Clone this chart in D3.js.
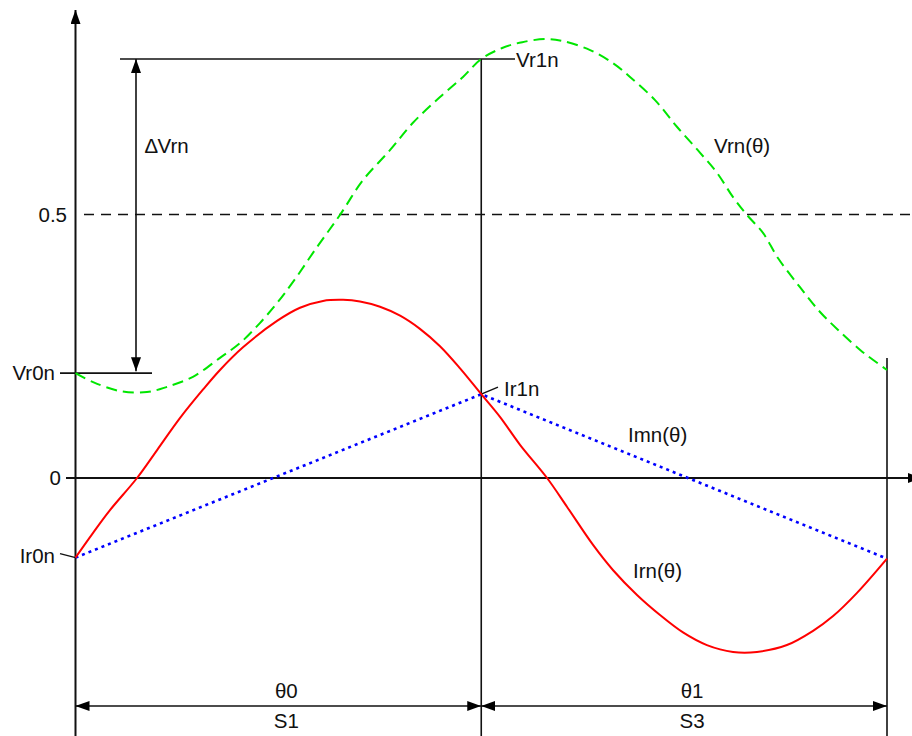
<!DOCTYPE html>
<html><head><meta charset="utf-8">
<script src="https://cdn.jsdelivr.net/npm/d3@7"></script>
<style>body{margin:0;background:#fff}svg{display:block}text{font-family:"Liberation Sans",Arial,sans-serif;fill:#111}</style>
</head><body><svg id="c" width="912" height="736"></svg>
<script>
// theta in degrees (0..360), values normalized
const vrn = [[0,0.199],[7.8,0.182],[19.7,0.165],[31.7,0.163],[40.6,0.173],[52.1,0.192],[64.1,0.228],[73,0.256],[81.8,0.294],[89.4,0.332],[96.5,0.372],[107.1,0.438],[117.3,0.499],[127.5,0.565],[139.5,0.622],[149.7,0.674],[161.7,0.723],[171.9,0.761],[180,0.795],[189.3,0.816],[198.2,0.827],[208.8,0.833],[216.3,0.829],[228.3,0.812],[238.5,0.787],[246,0.761],[257.1,0.717],[266.9,0.666],[277.1,0.617],[284.6,0.579],[291.7,0.533],[297.9,0.499],[305,0.465],[311.7,0.417],[321.4,0.362],[330.3,0.315],[338.3,0.281],[348.1,0.243],[353.9,0.224],[360,0.205]];
const irn = [[0,-0.151],[7.8,-0.104],[15.3,-0.061],[27.3,0],[36.2,0.053],[46.4,0.114],[56.6,0.168],[64.1,0.205],[74.3,0.248],[89.4,0.298],[99.6,0.323],[109.8,0.336],[118.7,0.338],[126.2,0.335],[135.1,0.325],[144,0.308],[152.8,0.283],[161.7,0.250],[170.6,0.208],[180,0.159],[188.3,0.116],[197.2,0.063],[209.2,0],[218.1,-0.055],[229.6,-0.127],[238.5,-0.175],[249.1,-0.222],[259.3,-0.260],[269.5,-0.293],[280.1,-0.317],[291.7,-0.330],[302.3,-0.330],[315.6,-0.317],[327.2,-0.290],[336.1,-0.262],[346.7,-0.218],[360,-0.153]];
const imn = [[0,-0.151],[180,0.159],[360,-0.153]];
const yTicks = [0, 0.5];
const yTickLabels = ["0", "0.5"];
const segments = [{from:0,to:180,top:"θ0",bottom:"S1"},{from:180,to:360,top:"θ1",bottom:"S3"}];

const svg = d3.select("#c");
const x = d3.scaleLinear([0,360],[75.5,887]);
const y = d3.scaleLinear([0,0.5],[478,214.5]);

const defs = svg.append("defs");
defs.append("marker").attr("id","ah").attr("viewBox","0 0 14 10").attr("refX",14).attr("refY",5)
  .attr("markerWidth",14).attr("markerHeight",10).attr("markerUnits","userSpaceOnUse").attr("orient","auto-start-reverse")
  .append("path").attr("d","M0,0L14,5L0,10Z").attr("fill","#000");

const ln = (x1,y1,x2,y2,w=1.6)=>svg.append("line").attr("x1",x1).attr("y1",y1).attr("x2",x2).attr("y2",y2).attr("stroke","#111").attr("stroke-width",w);
const txt = (s,xx,yy,anchor="start")=>svg.append("text").attr("x",xx).attr("y",yy).attr("dy","0.35em").attr("text-anchor",anchor).attr("font-size",20.5).text(s);

// axes
ln(x(0),736,x(0),10,2).attr("marker-end","url(#ah)");
ln(66,y(0),922,y(0),2).attr("marker-end","url(#ah)");
// 0.5 dashed
ln(84,y(0.5),912,y(0.5),1.6).attr("stroke-dasharray","10,7");
// tick labels
yTicks.forEach((t,i)=>txt(yTickLabels[i], i===0?61:67, y(t), "end"));

// vertical boundaries
const vr0 = vrn[0][1], vr1 = vrn.find(d=>d[0]===180)[1];
const ir0 = irn[0][1], ir1 = irn.find(d=>d[0]===180)[1];
ln(x(180),y(vr1),x(180),736,1.6);
ln(x(360),358,x(360),736,1.6);

// Vr1n / Vr0n reference lines
ln(120,y(vr1),515,y(vr1),1.6);
txt("Vr1n",516,y(vr1)+1);
ln(60,y(vr0),152,y(vr0),1.6);
txt("Vr0n",55,y(vr0),"end");
// delta arrow
ln(136,y(vr0)-2,136,y(vr1),1.6).attr("marker-end","url(#ah)").attr("marker-start","url(#ah)");
txt("∆Vrn",145,146);

// Ir labels with leaders
ln(60,y(ir0)-4,x(0),y(ir0),1.4);
txt("Ir0n",55,y(ir0)-2,"end");
ln(x(180),y(ir1),498,y(ir1)-7,1.4);
txt("Ir1n",504,y(ir1)-5);

// curves
const line = d3.line().x(d=>x(d[0])).y(d=>y(d[1])).curve(d3.curveCatmullRom.alpha(0.5));
svg.append("path").attr("d",line(vrn)).attr("fill","none").attr("stroke","#00e600").attr("stroke-width",2).attr("stroke-dasharray","11,6");
svg.append("path").attr("d",d3.line().x(d=>x(d[0])).y(d=>y(d[1]))(imn)).attr("fill","none").attr("stroke","#0000ff").attr("stroke-width",2.6).attr("stroke-dasharray","3,4");
svg.append("path").attr("d",line(irn)).attr("fill","none").attr("stroke","#ff0000").attr("stroke-width",2);

txt("Vrn(θ)",714,146);
txt("Imn(θ)",628,435);
txt("Irn(θ)",633,571);

// bottom dimension arrows
segments.forEach(s=>{
  ln(x(s.from),706,x(s.to),706,1.6).attr("marker-end","url(#ah)").attr("marker-start","url(#ah)");
  const cx = (x(s.from)+x(s.to))/2 + 8;
  txt(s.top,cx,691,"middle");
  txt(s.bottom,cx,721,"middle");
});
</script></body></html>
